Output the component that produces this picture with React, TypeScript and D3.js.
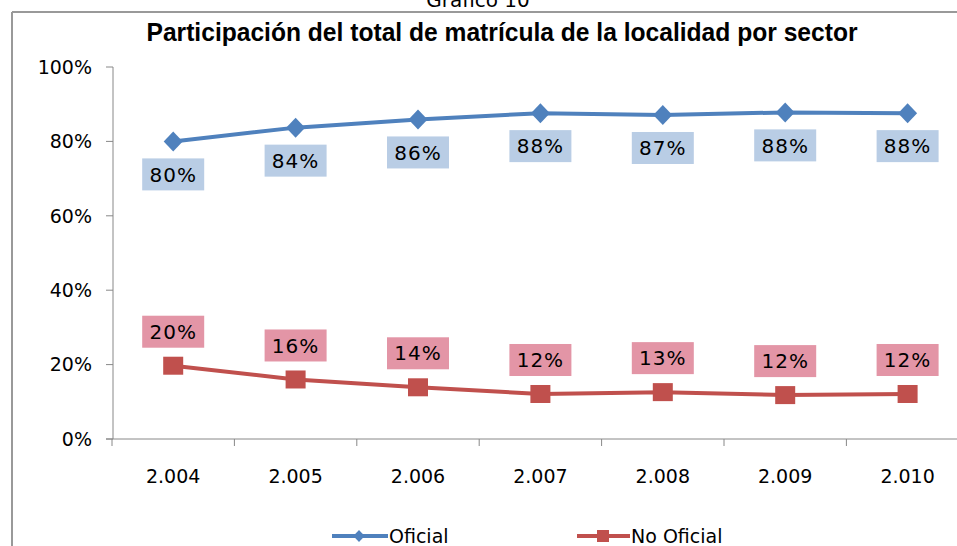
import React from 'react';
import * as d3 from 'd3';

const years = ['2.004', '2.005', '2.006', '2.007', '2.008', '2.009', '2.010'];
const oficial = [0.80, 0.837, 0.859, 0.876, 0.871, 0.878, 0.876];
const noOficial = [0.197, 0.160, 0.139, 0.121, 0.126, 0.118, 0.121];
const oficialLabels = ['80%', '84%', '86%', '88%', '87%', '88%', '88%'];
const noOficialLabels = ['20%', '16%', '14%', '12%', '13%', '12%', '12%'];
const yTicks = [0, 0.2, 0.4, 0.6, 0.8, 1];

const W = 957;
const H = 546;
const FONT = '"DejaVu Sans", Verdana, sans-serif';
const BLUE = '#4f81bd';
const RED = '#c0504d';

const App = () => {
  const x = d3.scaleBand<string>().domain(years).range([112, 112 + 7 * 122.4]);
  const y = d3.scaleLinear().domain([0, 1]).range([439, 67]);
  const cx = (i: number) => (x(years[i]) as number) + x.bandwidth() / 2;

  const line = d3.line<number>().x((_, i) => cx(i)).y(d => y(d));

  const diamond = (px: number, py: number, s = 10) =>
    `M${px},${py - s}L${px + s * 0.95},${py}L${px},${py + s}L${px - s * 0.95},${py}Z`;

  return (
    <svg width={W} height={H} style={{ position: 'absolute', left: 0, top: 0, background: '#fff' }}>
      {/* frame */}
      <line x1={12} x2={W} y1={12} y2={12} stroke="#999" strokeWidth={2} />
      <line x1={12} x2={12} y1={12} y2={H} stroke="#999" strokeWidth={2} />

      <text x={478} y={7} textAnchor="middle" fontFamily={FONT} fontSize={20} fill="#000">Gráfico 10</text>
      <text x={502} y={41} textAnchor="middle" fontFamily='"Liberation Sans Narrow", "Liberation Sans", sans-serif'
        fontWeight="bold" fontSize={25} textLength={711} lengthAdjust="spacingAndGlyphs" fill="#000">
        Participación del total de matrícula de la localidad por sector
      </text>

      {/* y axis */}
      <line x1={113} x2={113} y1={y(1)} y2={y(0)} stroke="#888" strokeWidth={1} />
      {yTicks.map(t => (
        <g key={t}>
          <line x1={106} x2={113} y1={y(t)} y2={y(t)} stroke="#888" />
          <text x={92} y={y(t)} dy="0.36em" textAnchor="end" fontFamily={FONT} fontSize={19} fill="#000">
            {d3.format('.0%')(t)}
          </text>
        </g>
      ))}

      {/* x axis */}
      <line x1={106} x2={W} y1={y(0)} y2={y(0)} stroke="#888" />
      {years.map((yr, i) => (
        <g key={yr}>
          <line x1={x(yr) as number} x2={x(yr) as number} y1={y(0)} y2={y(0) + 7} stroke="#888" />
          <text x={cx(i)} y={476} dy="0.36em" textAnchor="middle" fontFamily={FONT} fontSize={19} fill="#000">{yr}</text>
        </g>
      ))}
      <line x1={(x(years[6]) as number) + x.bandwidth()} x2={(x(years[6]) as number) + x.bandwidth()} y1={y(0)} y2={y(0) + 7} stroke="#888" />

      {/* lines */}
      <path d={line(oficial) as string} fill="none" stroke={BLUE} strokeWidth={4} />
      <path d={line(noOficial) as string} fill="none" stroke={RED} strokeWidth={4} />
      {oficial.map((v, i) => <path key={'d' + i} d={diamond(cx(i), y(v))} fill={BLUE} />)}
      {noOficial.map((v, i) => <rect key={'s' + i} x={cx(i) - 10} y={y(v) - 9} width={20} height={18} fill={RED} />)}

      {/* data labels */}
      {oficial.map((v, i) => (
        <g key={'lo' + i}>
          <rect x={cx(i) - 31} y={y(v) + 17} width={62} height={32} fill="#b9cde5" />
          <text x={cx(i)} y={y(v) + 33} dy="0.36em" textAnchor="middle" fontFamily={FONT} fontSize={20} letterSpacing={1} fill="#000">{oficialLabels[i]}</text>
        </g>
      ))}
      {noOficial.map((v, i) => (
        <g key={'ln' + i}>
          <rect x={cx(i) - 31} y={y(v) - 50} width={62} height={32} fill="#e395a6" />
          <text x={cx(i)} y={y(v) - 34} dy="0.36em" textAnchor="middle" fontFamily={FONT} fontSize={20} letterSpacing={1} fill="#000">{noOficialLabels[i]}</text>
        </g>
      ))}

      {/* legend */}
      <line x1={332} x2={388} y1={536} y2={536} stroke={BLUE} strokeWidth={4} />
      <path d={diamond(359, 536, 6)} fill={BLUE} />
      <text x={389} y={536} dy="0.36em" fontFamily={FONT} fontSize={19} fill="#000">Oficial</text>
      <line x1={577} x2={630} y1={536} y2={536} stroke={RED} strokeWidth={4} />
      <rect x={597} y={530} width={12} height={12} fill={RED} />
      <text x={631} y={536} dy="0.36em" fontFamily={FONT} fontSize={19} fill="#000">No Oficial</text>
    </svg>
  );
};

export default App;
